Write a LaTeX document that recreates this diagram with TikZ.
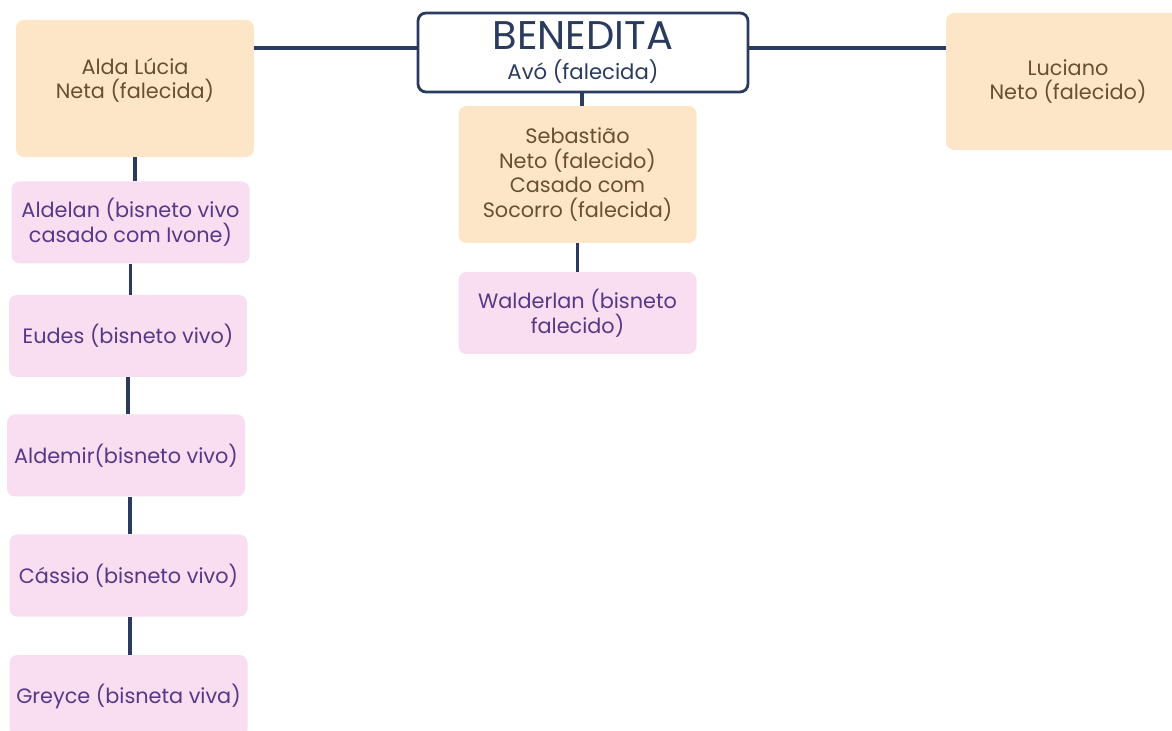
\documentclass[tikz,border=0pt]{standalone}
\usepackage{fontspec}
\setmainfont{Poppins}
\usepackage{xcolor}
\usepackage{tikz}
\usetikzlibrary{positioning}
\definecolor{treenavy}{HTML}{2A3B5E}
\definecolor{treepeach}{HTML}{FDE6C8}
\definecolor{treebrown}{HTML}{6B4E30}
\definecolor{treepink}{HTML}{F9DDF1}
\definecolor{treeviolet}{HTML}{583886}
\tikzstyle{root} = [rectangle, draw=treenavy, line width=1.4pt, rounded corners=4pt,
    fill=white, minimum width=165pt, minimum height=39.5pt, align=center, text=treenavy]
\tikzstyle{neto} = [rectangle, rounded corners=4pt, fill=treepeach, text=treebrown,
    minimum width=119pt, minimum height=68.5pt, align=center,
    font=\fontsize{10.4}{12.3}\selectfont]
\tikzstyle{bisneto} = [rectangle, rounded corners=4pt, fill=treepink, text=treeviolet,
    minimum width=119pt, minimum height=41pt, align=center,
    font=\fontsize{10.4}{12.3}\selectfont]
\tikzstyle{link} = [line width=1.6pt, treenavy]

\begin{document}
\begin{tikzpicture}[x=0.5pt, y=-0.5pt]
\useasboundingbox (0,0) rectangle (1172,731);
\node[root] (benedita) at (583,52.5) {{\fontsize{20}{20}\selectfont BENEDITA}\\[3pt]{\fontsize{10.6}{12}\selectfont Avó (falecida)}};
\node[neto, text depth=10pt] (alda) at (135,88.5) {Alda Lúcia\\Neta (falecida)};
\node[neto, minimum width=122pt] (luciano) at (1068,81.5) {Luciano\\Neto (falecido)};
\node[neto] (sebastiao) at (577.5,174.5) {Sebastião\\Neto (falecido)\\Casado com\\Socorro (falecida)};
\node[bisneto] (walderlan) at (577.5,313) {Walderlan (bisneto\\falecido)};
\node[bisneto] (aldelan) at (130.5,222.5) {Aldelan (bisneto vivo\\casado com Ivone)};
\node[bisneto] (eudes) at (128,336) {Eudes (bisneto vivo)};
\node[bisneto] (aldemir) at (126,455.5) {Aldemir(bisneto vivo)};
\node[bisneto] (cassio) at (128.5,575.5) {Cássio (bisneto vivo)};
\node[bisneto] (greyce) at (128.5,696) {Greyce (bisneta viva)};
% avó e netos
\draw[link] (alda.east |- 0,48) -- (benedita.west |- 0,48);
\draw[link] (benedita.east |- 0,48) -- (luciano.west |- 0,48);
\draw[link] (582,0 |- benedita.south) -- (582,0 |- sebastiao.north);
\draw[link] (sebastiao.south) -- (walderlan.north);
% bisnetos
\draw[link] (alda.south) -- (alda.south |- aldelan.north);
\draw[link] (aldelan.south) -- (aldelan.south |- eudes.north);
\draw[link] (eudes.south) -- (eudes.south |- aldemir.north);
\draw[link] (130,0 |- aldemir.south) -- (130,0 |- cassio.north);
\draw[link] (130,0 |- cassio.south) -- (130,0 |- greyce.north);
\end{tikzpicture}
\end{document}
